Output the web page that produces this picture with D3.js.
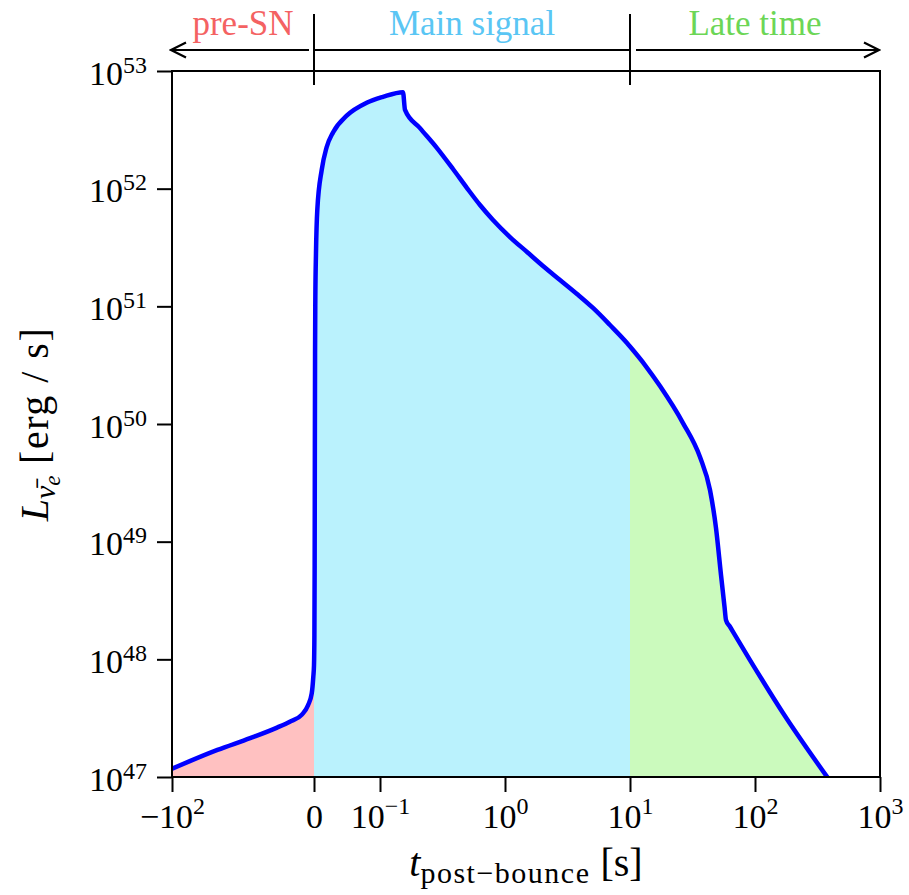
<!DOCTYPE html>
<html>
<head>
<meta charset="utf-8">
<script src="https://cdn.jsdelivr.net/npm/d3@7"></script>
<style>
    body { margin: 0; background: #fff; }
    svg text { font-family: "Liberation Serif", "DejaVu Serif", serif; }
</style>
</head>
<body>
<svg id="drawing_region"></svg>
<script>
// time after bounce [s] and log10 of luminosity [erg/s]
const tPre = [-100, -68, -45, -26, -17, -8.5, -4.2, -1.6, -0.5, 0];
const logLumPre = [47.07, 47.23, 47.33, 47.42, 47.47, 47.53, 47.61, 47.71, 47.85, 47.95];

const tMain = [0, 0.0006, 0.001, 0.0013, 0.0016, 0.002, 0.003, 0.005, 0.0117, 0.019, 0.029, 0.0495,
    0.0798, 0.1055, 0.1527, 0.1585, 0.2089, 0.2858, 0.3837, 0.4966, 0.631, 0.8017, 1.096, 1.50,
    2.014, 2.754, 3.767, 5.058, 6.918, 9.462, 10];
const logLumMain = [47.95, 48.2, 48.8, 49.8, 50.6, 51.05, 51.45, 51.82, 52.16, 52.35, 52.48, 52.62,
    52.73, 52.78, 52.82, 52.67, 52.515, 52.345, 52.167, 52.005, 51.861, 51.734, 51.589, 51.462,
    51.343, 51.224, 51.105, 50.986, 50.841, 50.688, 50.658];

const tLate = [10, 13.18, 17.38, 26.55, 36.31, 43.65, 48.75, 53.46, 57.0, 58.61, 63.1, 91.2, 167.5, 383.7];
const logLumLate = [50.658, 50.501, 50.322, 50.008, 49.719, 49.439, 49.116, 48.717, 48.449, 48.334,
    48.277, 47.994, 47.544, 46.99];

const xTicks = [-100, 0, 0.1, 1, 10, 100, 1000];
const xTickLabels = [["\u221210", "2"], ["0", ""], ["10", "\u22121"], ["10", "0"], ["10", "1"], ["10", "2"], ["10", "3"]];
const yTicks = [1e47, 1e48, 1e49, 1e50, 1e51, 1e52, 1e53];
const yTickLabels = [["10", "47"], ["10", "48"], ["10", "49"], ["10", "50"], ["10", "51"], ["10", "52"], ["10", "53"]];

const phaseNames = ["pre-SN", "Main signal", "Late time"];
const phaseEdges = [-100, 0, 10, 1000];
const phaseText = ["#f46262", "#5ac6f4", "#6cd656"];
const phaseFill = ["#ffc1c1", "#baf2fd", "#cbfabd"];

const config = {
    width: 909,
    height: 895,
    margin: { top: 71, right: 29, bottom: 118, left: 172 }
};

const toPoints = (ts, ls) => ts.map((t, i) => ({ t: t, L: Math.pow(10, ls[i]) }));
const pre = toPoints(tPre, logLumPre);
const main = toPoints(tMain, logLumMain);
const late = toPoints(tLate, logLumLate);
const all = pre.concat(main.slice(1), late.slice(1));

const svg = d3.select('#drawing_region')
    .attr('width', config.width)
    .attr('height', config.height);

const w = config.width - config.margin.left - config.margin.right;
const h = config.height - config.margin.top - config.margin.bottom;

const chart = svg.append('g')
    .attr('transform', `translate(${config.margin.left}, ${config.margin.top})`);

// piecewise time axis: linear before bounce, linear up to 0.1 s, log afterwards
const xNeg = d3.scaleLinear().domain([-100, 0]).range([0, 142]);
const xLin = d3.scaleLinear().domain([0, 0.1]).range([142, 208]);
const xLog = d3.scaleLog().domain([0.1, 1000]).range([208, w]);
function x(t) {
    if (t < 0) return xNeg(t);
    if (t < 0.1) return xLin(t);
    return xLog(t);
}
x.range = () => [0, w];
x.domain = () => [-100, 1000];
x.copy = () => x;

const y = d3.scaleLog().domain([1e47, 1e53]).range([h, 0]);

const defs = svg.append('defs');
defs.append('clipPath').attr('id', 'clip')
    .append('rect').attr('width', w).attr('height', h);

const plot = chart.append('g').attr('clip-path', 'url(#clip)');

const area = d3.area()
    .x(d => x(d.t))
    .y0(h)
    .y1(d => y(d.L))
    .curve(d3.curveMonotoneX);

[pre, main, late].forEach((seg, i) => {
    plot.append('path')
        .datum(seg)
        .attr('d', area)
        .attr('fill', phaseFill[i]);
});

plot.append('path')
    .datum(all)
    .attr('d', d3.line().x(d => x(d.t)).y(d => y(d.L)).curve(d3.curveMonotoneX))
    .attr('fill', 'none')
    .attr('stroke', '#0000ff')
    .attr('stroke-width', 4.5)
    .attr('stroke-linejoin', 'round');

chart.append('rect')
    .attr('width', w)
    .attr('height', h)
    .attr('fill', 'none')
    .attr('stroke', 'black')
    .attr('stroke-width', 2);

function supLabels(sel, labels, supDy) {
    sel.each(function (d, i) {
        const t = d3.select(this);
        t.text(null);
        t.append('tspan').text(labels[i][0]);
        if (labels[i][1]) {
            t.append('tspan').attr('dy', supDy).attr('font-size', 24).text(labels[i][1]);
        }
    });
}

const xaxis_group = chart.append('g')
    .attr('transform', `translate(0, ${h})`)
    .call(d3.axisBottom(x).tickValues(xTicks).tickSize(15).tickSizeOuter(0).tickFormat(() => ''));
xaxis_group.select('.domain').remove();
xaxis_group.selectAll('.tick line').attr('stroke-width', 2);
xaxis_group.selectAll('.tick text')
    .attr('y', 51).attr('dy', 0)
    .attr('font-size', 34).attr('font-family', null).attr('fill', 'black')
    .call(supLabels, xTickLabels, -14);

const yaxis_group = chart.append('g')
    .call(d3.axisLeft(y).tickValues(yTicks).tickSize(15).tickSizeOuter(0).tickFormat(() => ''));
yaxis_group.select('.domain').remove();
yaxis_group.selectAll('.tick line').attr('stroke-width', 2);
yaxis_group.selectAll('.tick text')
    .attr('x', -25).attr('y', 13).attr('dy', 0)
    .attr('font-size', 34).attr('font-family', null).attr('fill', 'black')
    .call(supLabels, yTickLabels, -12);

// axis titles
const xlabel = chart.append('text')
    .attr('x', w / 2)
    .attr('y', h + 99)
    .attr('text-anchor', 'middle')
    .attr('font-size', 40);
xlabel.append('tspan').attr('font-style', 'italic').text('t');
xlabel.append('tspan').attr('font-size', 30).attr('letter-spacing', 1.5).attr('dy', 7).text('post\u2212bounce');
xlabel.append('tspan').attr('dy', -7).text(' [s]');

const ylabel = chart.append('text')
    .attr('transform', `translate(${48 - config.margin.left}, ${h / 2}) rotate(-90)`)
    .attr('text-anchor', 'middle')
    .attr('font-size', 40);
ylabel.append('tspan').attr('font-style', 'italic').text('L');
ylabel.append('tspan').attr('font-style', 'italic').attr('font-size', 30).attr('dy', 7).text('\u03bd\u0304');
ylabel.append('tspan').attr('font-style', 'italic').attr('font-size', 23).attr('dy', 5).text('e');
ylabel.append('tspan').attr('dy', -12).attr('letter-spacing', 1.5).text(' [erg / s]');

// phase annotations above the frame
const annot = chart.append('g');
const marker = defs.append('marker')
    .attr('id', 'chevron')
    .attr('markerUnits', 'userSpaceOnUse')
    .attr('viewBox', '-17 -9 19 18')
    .attr('markerWidth', 19)
    .attr('markerHeight', 18)
    .attr('refX', 0)
    .attr('refY', 0)
    .attr('orient', 'auto');
marker.append('path')
    .attr('d', 'M-15,-7.5L0,0L-15,7.5')
    .attr('fill', 'none')
    .attr('stroke', 'black')
    .attr('stroke-width', 2.2);

const arrowY = -21;
annot.append('line')
    .attr('x1', x(0) - 5).attr('x2', x(-100) - 1)
    .attr('y1', arrowY).attr('y2', arrowY)
    .attr('stroke', 'black').attr('stroke-width', 2.2)
    .attr('marker-end', 'url(#chevron)');
annot.append('line')
    .attr('x1', x(0)).attr('x2', x(10))
    .attr('y1', arrowY).attr('y2', arrowY)
    .attr('stroke', 'black').attr('stroke-width', 2.2);
annot.append('line')
    .attr('x1', x(10) + 6).attr('x2', x(1000) - 1)
    .attr('y1', arrowY).attr('y2', arrowY)
    .attr('stroke', 'black').attr('stroke-width', 2.2)
    .attr('marker-end', 'url(#chevron)');

annot.selectAll('.sep')
    .data([0, 10])
    .join('line')
    .attr('class', 'sep')
    .attr('x1', d => x(d)).attr('x2', d => x(d))
    .attr('y1', -57).attr('y2', 14)
    .attr('stroke', 'black').attr('stroke-width', 2);

annot.selectAll('.phase')
    .data(phaseNames)
    .join('text')
    .attr('class', 'phase')
    .attr('x', (d, i) => (x(phaseEdges[i]) + x(phaseEdges[i + 1])) / 2)
    .attr('y', -36)
    .attr('text-anchor', 'middle')
    .attr('font-size', 35)
    .attr('fill', (d, i) => phaseText[i])
    .text(d => d);
</script>
</body>
</html>
